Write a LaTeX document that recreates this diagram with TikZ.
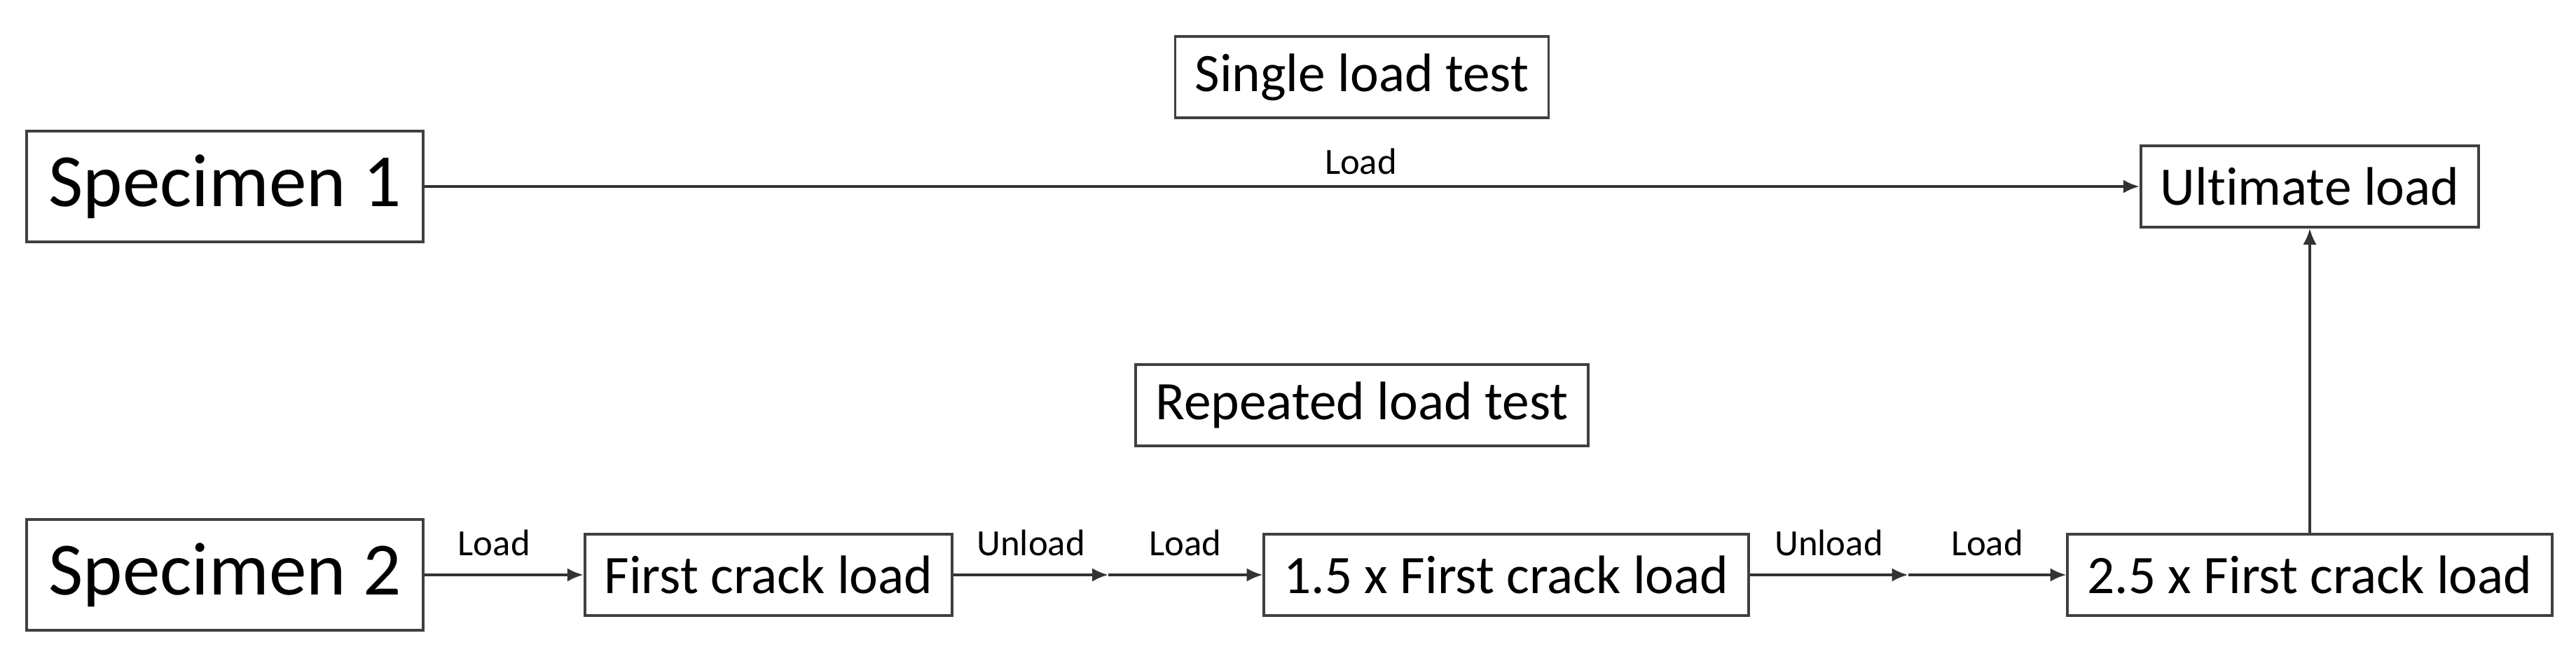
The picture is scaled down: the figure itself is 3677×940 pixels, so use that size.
\documentclass[tikz,border=0pt]{standalone}
\usepackage{fontspec}
\setmainfont{Carlito}[Ligatures=NoCommon]
\usetikzlibrary{arrows.meta,calc}
\tikzset{
	bigbox/.style={draw=black!75, line width=1.1pt, font=\fontsize{30.5}{36}\selectfont, inner xsep=9pt, minimum height=45pt},
	midbox/.style={draw=black!75, line width=1.1pt, font=\fontsize{22}{26}\selectfont, inner xsep=8pt, minimum height=33pt},
	lbl/.style={font=\fontsize{15}{18}\selectfont},
	arr/.style={draw=black!80, line width=1pt, -{Latex[length=6.5pt,width=5.5pt]}},
}
\begin{document}
\begin{tikzpicture}[x=0.01cm, y=-0.01cm]
		\useasboundingbox (0, 0) rectangle (3677, 940);
		%%%%% START %%%%%
		
		\node[midbox] (single) at (1944, 110) {Single load test};
		\node[midbox] (repeated) at (1944, 578) {Repeated load test};
		
		\node[bigbox] (spec1) at (321, 266) {Specimen 1};
		\node[midbox] (ult) at (3297, 266) {Ultimate load};
		\draw[arr] (spec1) -- node[lbl, above=1pt, pos=0.546] {Load} (ult);
		
		\node[bigbox] (spec2) at (321, 820) {Specimen 2};
		\node[midbox] (first) at (1097, 820) {First crack load};
		\node[midbox] (first15) at (2150, 820) {1.5 x First crack load};
		\node[midbox] (first25) at (3297, 820) {2.5 x First crack load};
		
		\coordinate (mid1) at ($(first.east)!0.5!(first15.west)$);
		\coordinate (mid2) at ($(first15.east)!0.5!(first25.west)$);
		
		\draw[arr] (spec2) -- node[lbl, above=4pt, xshift=-4pt] {Load} (first);
		\draw[arr] (first) -- node[lbl, above=4pt] {Unload} (mid1);
		\draw[arr] (mid1) -- node[lbl, above=4pt] {Load} (first15);
		\draw[arr] (first15) -- node[lbl, above=4pt] {Unload} (mid2);
		\draw[arr] (mid2) -- node[lbl, above=4pt] {Load} (first25);
		
		\draw[arr] (first25) -- (ult);
		
		%%%%% END %%%%%
	\end{tikzpicture}
\end{document}
